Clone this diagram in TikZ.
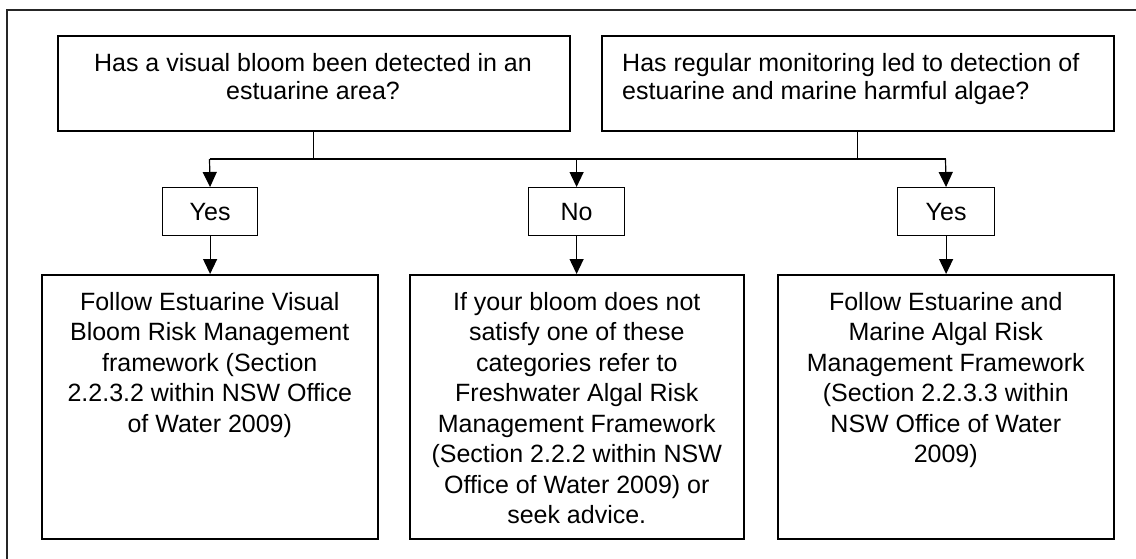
\documentclass[tikz,border=0pt]{standalone}
\usepackage{fontspec}
\setmainfont{Liberation Sans}
\usetikzlibrary{arrows.meta}
\begin{document}
\begin{tikzpicture}[x=1pt,y=-1pt,
  box/.style={draw=black,line width=1.5pt,inner sep=0pt,anchor=north west},
  small/.style={draw=black,line width=1.2pt,inner sep=0pt,anchor=north west},
  txt/.style={inner sep=0pt,align=center,font=\fontsize{25}{30.5}\selectfont},
  qtxt/.style={inner sep=0pt,font=\fontsize{25}{28}\selectfont},
  conn/.style={line width=1.2pt},
  arr/.style={line width=1.2pt,-{Triangle[length=15pt,width=14pt]}}]
\useasboundingbox (0,0) rectangle (1136,558);
\draw[line width=1.4pt,black!85] (7,560) -- (7,10) -- (1140,10);
% question boxes
\node[box,minimum width=512pt,minimum height=95pt] (Q1) at (57,35) {};
\node[box,minimum width=512pt,minimum height=95pt] (Q2) at (601,35) {};
\node[qtxt,align=center,anchor=north] (Q1t) at (313,53) {Has a visual bloom been detected in an\\estuarine area?};
\node[qtxt,align=left,anchor=north west] (Q2t) at (622,53) {Has regular monitoring led to detection of\\estuarine and marine harmful algae?};
% answer boxes
\node[small,minimum width=95pt,minimum height=48pt] (Y1) at (162,187) {};
\node[small,minimum width=96pt,minimum height=48pt] (N) at (528,187) {};
\node[small,minimum width=97pt,minimum height=48pt] (Y2) at (897,187) {};
\node[txt] (Y1t) at (Y1.center) {Yes};
\node[txt] (Nt) at (N.center) {No};
\node[txt] (Y2t) at (Y2.center) {Yes};
% outcome boxes
\node[box,minimum width=336pt,minimum height=264pt] (A) at (41,274) {};
\node[box,minimum width=334pt,minimum height=264pt] (B) at (409,274) {};
\node[box,minimum width=336pt,minimum height=264pt] (C) at (777,274) {};
\node[txt,anchor=north] (At) at ([yshift=-18pt]A.north) {Follow Estuarine Visual\\Bloom Risk Management\\framework (Section\\2.2.3.2 within NSW Office\\of Water 2009)};
\node[txt,anchor=north] (Bt) at ([yshift=-18pt]B.north) {If your bloom does not\\satisfy one of these\\categories refer to\\Freshwater Algal Risk\\Management Framework\\(Section 2.2.2 within NSW\\Office of Water 2009) or\\seek advice.};
\node[txt,anchor=north] (Ct) at ([yshift=-18pt]C.north) {Follow Estuarine and\\Marine Algal Risk\\Management Framework\\(Section 2.2.3.3 within\\NSW Office of Water\\2009)};
% connectors
\coordinate (hl) at (209.5,159);
\coordinate (hr) at (945.5,159);
\draw[conn] (Q1.south) -- (Q1.south |- hl);
\draw[conn] (Q2.south) -- (Q2.south |- hl);
\draw[conn] (hl) -- (hr);
\draw[arr] (hl) -- (Y1.north);
\draw[arr] (N.north |- hl) -- (N.north);
\draw[arr] (hr) -- (Y2.north);
\draw[arr] (Y1.south) -- (Y1.south |- A.north);
\draw[arr] (N.south) -- (N.south |- B.north);
\draw[arr] (Y2.south) -- (Y2.south |- C.north);
\end{tikzpicture}
\end{document}
